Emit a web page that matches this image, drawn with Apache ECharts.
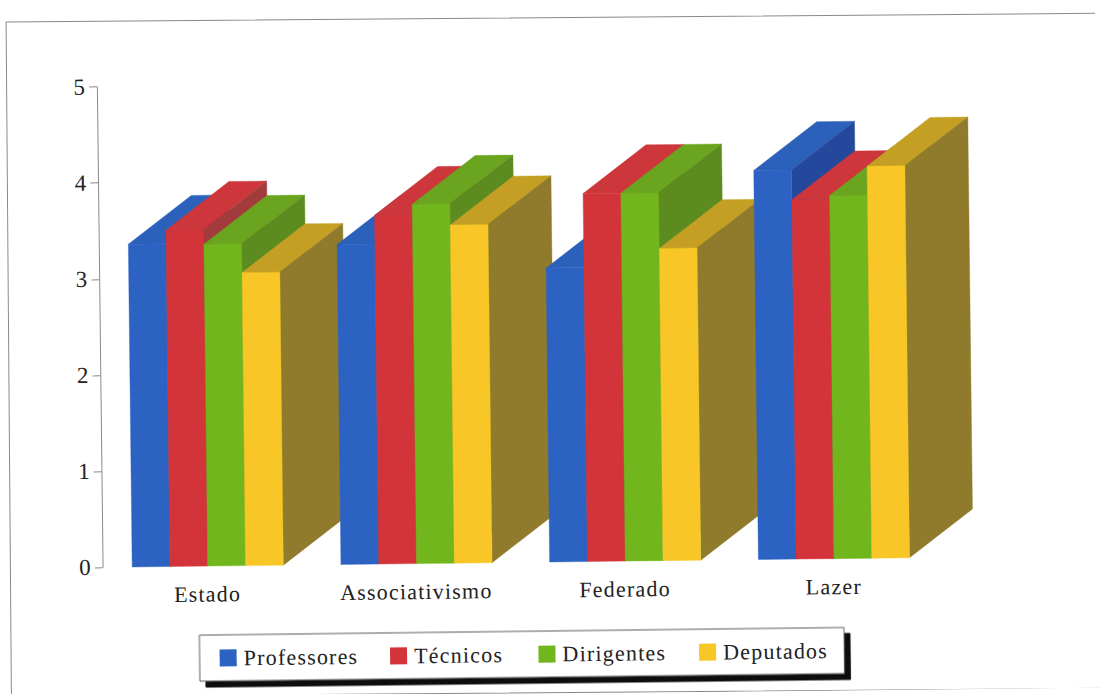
<!DOCTYPE html>
<html>
<head>
<meta charset="utf-8">
<style>
html,body{margin:0;padding:0;background:#fff;overflow:hidden;}
#chart{width:1099px;height:694px;letter-spacing:1.2px;transform:rotate(-0.68deg);transform-origin:549.5px 347px;}
</style>
<script src="https://cdn.jsdelivr.net/npm/echarts@6/dist/echarts.min.js"></script>
</head>
<body>
<div id="chart"></div>
<script>
const categories = ['Estado', 'Associativismo', 'Federado', 'Lazer'];
const seriesNames = ['Professores', 'Técnicos', 'Dirigentes', 'Deputados'];
const professores = [3.36, 3.33, 3.06, 4.05];
const tecnicos = [3.50, 3.63, 3.83, 3.74];
const dirigentes = [3.35, 3.74, 3.83, 3.78];
const deputados = [3.05, 3.52, 3.25, 4.08];
const yTicks = [0, 1, 2, 3, 4, 5];

const values = [professores, tecnicos, dirigentes, deputados];
const palette = [
  {front: '#2c62c2', top: '#2b60bb', side: '#24489c'},
  {front: '#d3343a', top: '#cd373b', side: '#a23b3c'},
  {front: '#70b61c', top: '#6ba41f', side: '#5c8b1f'},
  {front: '#f8c727', top: '#c49f23', side: '#8f7b2b'}
];
const BAR_SHARE = 0.181, DEPTH_X = 63.5, DEPTH_Y = 48, SHIFT_X = 0.5;

function render3d(sIdx) {
  return function (params, api) {
    const cat = api.value(0);
    const top = api.coord([cat, api.value(1)]);
    const base = api.coord([cat, 0]);
    const w = api.size([1, 0])[0] * BAR_SHARE;
    const x0 = top[0] + SHIFT_X + (sIdx - 2) * w, x1 = x0 + w;
    const yt = top[1], yb = base[1];
    const c = palette[sIdx];
    const z2 = cat * 10 + sIdx;
    const poly = (points, fill) => ({
      type: 'polygon', z2, silent: true,
      shape: {points},
      style: {fill, stroke: fill, lineWidth: 0.4}
    });
    return {
      type: 'group',
      children: [
        poly([[x0, yt], [x1, yt], [x1 + DEPTH_X, yt - DEPTH_Y], [x0 + DEPTH_X, yt - DEPTH_Y]], c.top),
        poly([[x1, yt], [x1 + DEPTH_X, yt - DEPTH_Y], [x1 + DEPTH_X, yb - DEPTH_Y], [x1, yb]], c.side),
        poly([[x0, yt], [x1, yt], [x1, yb], [x0, yb]], c.front)
      ]
    };
  };
}

const chart = echarts.init(document.getElementById('chart'), null, {renderer: 'svg'});
chart.setOption({
  animation: false,
  backgroundColor: '#fff',
  textStyle: {fontFamily: '"Liberation Serif", serif'},
  grid: {left: 100.3, top: 81.6, width: 835, height: 480.4},
  graphic: [{
    type: 'rect', silent: true, z: -1,
    originX: 560, originY: 17.5,
    rotation: -0.0037,
    shape: {x: 10, y: 17.5, width: 1110, height: 675},
    style: {fill: 'none', stroke: '#8a8a8a', lineWidth: 1}
  }],
  legend: {
    left: 196, top: 631,
    padding: [12, 27, 12, 20],
    itemGap: 45, itemWidth: 17, itemHeight: 17,
    data: seriesNames.map((name, i) => ({name, icon: 'rect', itemStyle: {color: palette[i].front}})),
    textStyle: {fontFamily: '"Liberation Serif", serif', fontSize: 22, color: '#222', padding: [0, 0, 0, 2]},
    backgroundColor: '#fff',
    borderColor: '#555', borderWidth: 1,
    shadowColor: '#111', shadowBlur: 0, shadowOffsetX: 6, shadowOffsetY: 6,
    selectedMode: false
  },
  xAxis: {
    type: 'category', data: categories,
    axisLine: {show: false}, axisTick: {show: false},
    axisLabel: {fontFamily: '"Liberation Serif", serif', fontSize: 22, color: '#222', margin: 17}
  },
  yAxis: {
    type: 'value', min: yTicks[0], max: yTicks[yTicks.length - 1], interval: 1,
    splitLine: {show: false},
    axisLine: {show: true, lineStyle: {color: '#8a8a8a', width: 1}},
    axisTick: {show: true, length: 8, lineStyle: {color: '#8a8a8a', width: 1}},
    axisLabel: {fontFamily: '"Liberation Serif", serif', fontSize: 23, color: '#222', margin: 11}
  },
  series: seriesNames.map((name, i) => ({
    name, type: 'custom', silent: true,
    itemStyle: {color: palette[i].front},
    encode: {x: 0, y: 1},
    data: values[i].map((v, c) => [c, v]),
    renderItem: render3d(i)
  }))
});
</script>
</body>
</html>
